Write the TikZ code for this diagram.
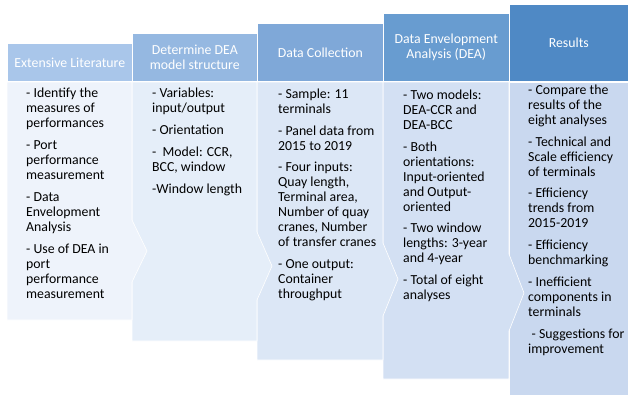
\documentclass[tikz,border=0pt]{standalone}
\usepackage{fontspec}
\setmainfont{Carlito}
\usetikzlibrary{positioning}

\definecolor{hA}{HTML}{A9C6EA}
\definecolor{hB}{HTML}{95B8E1}
\definecolor{hC}{HTML}{7FA8D8}
\definecolor{hD}{HTML}{689CD0}
\definecolor{hE}{HTML}{4F89C5}
\definecolor{bA}{HTML}{EEF3FB}
\definecolor{bB}{HTML}{E5EEF9}
\definecolor{bC}{HTML}{DCE7F6}
\definecolor{bD}{HTML}{D3E0F3}
\definecolor{bE}{HTML}{C9D8EF}

% first line of a step's contents gets a fixed height
\newcommand{\topline}{\rule{0pt}{11pt}}

\begin{document}
\begin{tikzpicture}[
    x=1pt, y=-1pt,
    head/.style={draw=white, line width=0.6pt, anchor=south west, align=center,
                 text=white, minimum width=125pt, inner sep=0pt,
                 font=\fontsize{13.8pt}{15pt}\selectfont},
    panel/.style={draw=white, line width=0.6pt},
    txt/.style={anchor=north west, align=left, inner sep=0pt,
                font=\fontsize{13.8pt}{15pt}\selectfont}
  ]
    \useasboundingbox (0,0) rectangle (631,407);

    % body panels, right to left so each chevron lies on its neighbour
    \path[panel, fill=bE] (509,82) rectangle (628,395);
    \path[panel, fill=bD] (383,82) -- (509,82) -- (509,254) -- (524,293)
        -- (509,331) -- (509,379) -- (383,379) -- cycle;
    \path[panel, fill=bC] (257,82) -- (383,82) -- (383,243) -- (398,279)
        -- (383,316) -- (383,360) -- (257,360) -- cycle;
    \path[panel, fill=bB] (132,82) -- (257,82) -- (257,232) -- (272,266)
        -- (257,300) -- (257,341) -- (132,341) -- cycle;
    \path[panel, fill=bA] (7,82) -- (132,82) -- (132,220) -- (147,251)
        -- (132,282) -- (132,320) -- (7,320) -- cycle;

    % step headers
    \node[head, fill=hA, minimum height=38pt] (lit) at (7,82) {Extensive Literature};
    \node[head, fill=hB, minimum height=48pt] (model) at (132,82) {Determine DEA\\model structure};
    \node[head, fill=hC, minimum height=58pt, minimum width=126pt] (coll) at (257,82) {Data Collection};
    \node[head, fill=hD, minimum height=68pt, minimum width=126pt] (dea) at (383,82) {Data Envelopment\\Analysis (DEA)};
    \node[head, fill=hE, minimum height=77.5pt, minimum width=119pt] (res) at (509,82) {Results};

    % step contents
    \node[txt] (lit-txt) at (26,86.5) {\topline- Identify the\\measures of\\performances\\[6.8pt]
        - Port\\performance\\measurement\\[6.8pt]
        - Data\\Envelopment\\Analysis\\[6.8pt]
        - Use of DEA in\\port\\performance\\measurement};
    \node[txt] (model-txt) at (152,86.7) {\topline- Variables:\\input/output\\[6.8pt]
        - Orientation\\[6.8pt]
        -\ \ Model: CCR,\\BCC, window\\[6.8pt]
        -Window length};
    \node[txt] (coll-txt) at (278,87) {\topline- Sample: 11\\terminals\\[6.8pt]
        - Panel data from\\2015 to 2019\\[6.8pt]
        - Four inputs:\\Quay length,\\Terminal area,\\Number of quay\\cranes, Number\\of transfer cranes\\[6.8pt]
        - One output:\\Container\\throughput};
    \node[txt] (dea-txt) at (403,88) {\topline- Two models:\\DEA-CCR and\\DEA-BCC\\[6.8pt]
        - Both\\orientations:\\Input-oriented\\and Output-\\oriented\\[6.8pt]
        - Two window\\lengths: 3-year\\and 4-year\\[6.8pt]
        - Total of eight\\analyses};
    \node[txt] (res-txt) at (528,83) {\topline- Compare the\\results of the\\eight analyses\\[6.8pt]
        - Technical and\\Scale efficiency\\of terminals\\[6.8pt]
        - Efficiency\\trends from\\2015-2019\\[6.8pt]
        - Efficiency\\benchmarking\\[6.8pt]
        - Inefficient\\components in\\terminals\\[6.8pt]
        \hspace{3.5pt}- Suggestions for\\improvement};
\end{tikzpicture}
\end{document}
